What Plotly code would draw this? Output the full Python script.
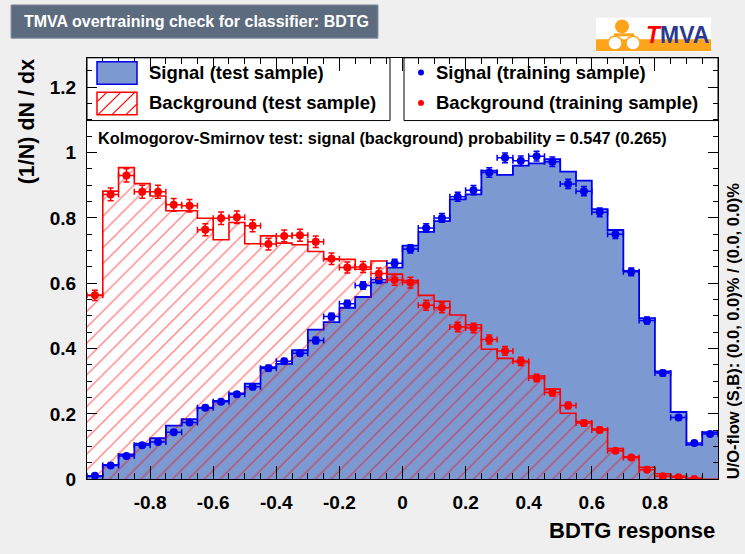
import numpy as np
import plotly.graph_objects as go

# ---- binning of the BDTG response (40 bins on [-1, 1]) ----
n_bins = 40
x_min, x_max = -1.0, 1.0

# ---- normalised distributions (1/N dN/dx) ----
sig_test = [0.009, 0.044, 0.076, 0.109, 0.126, 0.164, 0.184, 0.219, 0.240, 0.263,
            0.293, 0.343, 0.353, 0.395, 0.458, 0.481, 0.525, 0.558, 0.603, 0.648,
            0.715, 0.757, 0.790, 0.857, 0.872, 0.945, 0.932, 0.960, 0.967, 0.980,
            0.942, 0.914, 0.827, 0.763, 0.638, 0.493, 0.330, 0.206, 0.106, 0.144]

sig_train = [0.011, 0.042, 0.071, 0.104, 0.114, 0.144, 0.174, 0.219, 0.237, 0.260,
             0.283, 0.340, 0.361, 0.386, 0.425, 0.498, 0.537, 0.593, 0.611, 0.661,
             0.705, 0.769, 0.800, 0.865, 0.885, 0.939, 0.984, 0.975, 0.989, 0.972,
             0.904, 0.882, 0.817, 0.750, 0.635, 0.486, 0.325, 0.189, 0.111, 0.139]

bkg_test = [0.563, 0.882, 0.954, 0.905, 0.867, 0.822, 0.822, 0.799, 0.733, 0.786,
            0.721, 0.745, 0.723, 0.718, 0.697, 0.673, 0.673, 0.643, 0.668, 0.628,
            0.608, 0.563, 0.545, 0.503, 0.473, 0.398, 0.370, 0.360, 0.316, 0.276,
            0.202, 0.177, 0.154, 0.094, 0.069, 0.037, 0.017, 0.009, 0.003, 0.000]

bkg_train = [0.563, 0.872, 0.930, 0.880, 0.880, 0.840, 0.837, 0.764, 0.799, 0.802,
             0.776, 0.720, 0.745, 0.747, 0.727, 0.675, 0.648, 0.650, 0.630, 0.610,
             0.602, 0.533, 0.525, 0.466, 0.463, 0.428, 0.393, 0.361, 0.310, 0.266,
             0.226, 0.172, 0.151, 0.087, 0.067, 0.029, 0.009, 0.006, 0.001, None]

# statistical scale of the training samples (error ~ k*sqrt(y))
sig_err_scale = 0.0150
bkg_err_scale = 0.0210

x_tick_vals = [-0.8, -0.6, -0.4, -0.2, 0.0, 0.2, 0.4, 0.6, 0.8]
x_tick_text = ["-0.8", "-0.6", "-0.4", "-0.2", "0", "0.2", "0.4", "0.6", "0.8"]
y_tick_vals = [0.0, 0.2, 0.4, 0.6, 0.8, 1.0, 1.2]
y_tick_text = ["0", "0.2", "0.4", "0.6", "0.8", "1", "1.2"]

title_text = "TMVA overtraining check for classifier: BDTG"
ks_text = "Kolmogorov-Smirnov test: signal (background) probability = 0.547 (0.265)"
flow_text = "U/O-flow (S,B): (0.0, 0.0)% / (0.0, 0.0)%"

# ---- colours ----
SIG_FILL = "#7d99d1"
SIG_LINE = "#0000ee"
BKG_LINE = "#ff0000"
PAPER_BG = "#efefef"
FONT = "Liberation Sans, Arial, Helvetica, sans-serif"

W, H = 745, 554
FRAME_L, FRAME_R, FRAME_T, FRAME_B = 87, 718, 59, 489


def px(x):
    return x / W


def py(y):
    return 1 - y / H


edges = np.linspace(x_min, x_max, n_bins + 1)
centers = 0.5 * (edges[:-1] + edges[1:])
half_w = 0.5 * (edges[1] - edges[0])


def step_y(vals):
    return list(vals) + [vals[-1]]


def stat_err(vals, k):
    return [None if v is None else k * np.sqrt(v) for v in vals]


fig = go.Figure()

# signal (test sample): filled step histogram
fig.add_trace(go.Scatter(
    x=edges, y=step_y(sig_test), mode="lines", line_shape="hv",
    line=dict(color=SIG_LINE, width=1.8), fill="tozeroy", fillcolor=SIG_FILL,
    hoverinfo="skip"))

# background (test sample): hatched step histogram
fig.add_trace(go.Scatter(
    x=edges, y=step_y(bkg_test), mode="lines", line_shape="hv",
    line=dict(color=BKG_LINE, width=1.6), fill="tozeroy",
    fillcolor="rgba(0,0,0,0)",
    fillpattern=dict(shape="/", size=11.2, solidity=0.12, fgcolor=BKG_LINE,
                     bgcolor="rgba(0,0,0,0)", fillmode="overlay"),
    hoverinfo="skip"))

# training samples: markers with error bars
for vals, col, k in ((sig_train, SIG_LINE, sig_err_scale),
                     (bkg_train, BKG_LINE, bkg_err_scale)):
    fig.add_trace(go.Scatter(
        x=centers, y=vals, mode="markers",
        marker=dict(color=col, size=8, symbol="circle"),
        error_y=dict(type="data", array=stat_err(vals, k), width=3,
                     thickness=1.5, color=col),
        error_x=dict(type="constant", value=half_w, width=3,
                     thickness=1.5, color=col),
        hoverinfo="skip"))

axis_font = dict(family=FONT, size=19, color="black", weight="bold")

fig.update_layout(
    width=W, height=H, margin=dict(l=0, r=0, t=0, b=0),
    paper_bgcolor=PAPER_BG, plot_bgcolor="white", showlegend=False,
    xaxis=dict(domain=[px(FRAME_L), px(FRAME_R)], range=[x_min, x_max],
               tickmode="array", tickvals=x_tick_vals, ticktext=x_tick_text,
               ticks="inside", ticklen=13, tickwidth=1, tickcolor="black",
               minor=dict(tickmode="linear", tick0=0, dtick=0.05, ticks="inside",
                          ticklen=6, tickwidth=1, tickcolor="black"),
               showline=True, linecolor="black", linewidth=1, mirror="ticks",
               showgrid=False, zeroline=False, tickfont=axis_font,
               ticklabelstandoff=6),
    yaxis=dict(domain=[py(FRAME_B), py(FRAME_T)], range=[0, 1.29],
               tickmode="array", tickvals=y_tick_vals, ticktext=y_tick_text,
               ticks="inside", ticklen=10, tickwidth=1, tickcolor="black",
               minor=dict(tickmode="linear", tick0=0, dtick=0.05, ticks="inside",
                          ticklen=5, tickwidth=1, tickcolor="black"),
               showline=True, linecolor="black", linewidth=1, mirror="ticks",
               showgrid=False, zeroline=False, tickfont=axis_font,
               ticklabelstandoff=6),
)

shapes = []
annotations = []

# title banner
shapes.append(dict(type="rect", xref="paper", yref="paper",
                   x0=px(11), x1=px(378), y0=py(5), y1=py(39),
                   fillcolor="#5d6b7e", line=dict(color="#8995a6", width=1),
                   layer="above"))
annotations.append(dict(text=title_text, x=px(196), y=py(22), xref="paper", yref="paper",
                        showarrow=False, xanchor="center", yanchor="middle",
                        font=dict(family=FONT, size=16, color="white", weight="bold")))

# legend boxes
shapes.append(dict(type="rect", xref="paper", yref="paper",
                   x0=px(FRAME_L), x1=px(390), y0=py(123), y1=py(FRAME_T),
                   fillcolor="rgba(0,0,0,0)", line=dict(color="black", width=1),
                   layer="above"))
shapes.append(dict(type="rect", xref="paper", yref="paper",
                   x0=px(404), x1=px(FRAME_R), y0=py(123), y1=py(FRAME_T),
                   fillcolor="rgba(0,0,0,0)", line=dict(color="black", width=1),
                   layer="above"))

# legend sample: signal fill
shapes.append(dict(type="rect", xref="paper", yref="paper",
                   x0=px(97), x1=px(137), y0=py(86), y1=py(63),
                   fillcolor=SIG_FILL, line=dict(color=SIG_LINE, width=1.5),
                   layer="above"))
# legend sample: background hatch
bx0, bx1, by0, by1 = 97, 137, 94, 117
shapes.append(dict(type="rect", xref="paper", yref="paper",
                   x0=px(bx0), x1=px(bx1), y0=py(by1), y1=py(by0),
                   fillcolor="rgba(0,0,0,0)", line=dict(color=BKG_LINE, width=1.5),
                   layer="above"))
for kk in range(bx0 + by0 + 10, bx1 + by1, 14):
    xa = max(bx0, kk - by1)
    xb = min(bx1, kk - by0)
    if xb > xa:
        shapes.append(dict(type="line", xref="paper", yref="paper",
                           x0=px(xa), y0=py(kk - xa), x1=px(xb), y1=py(kk - xb),
                           line=dict(color=BKG_LINE, width=1.2), layer="above"))
# legend markers
for yc, col in ((74, SIG_LINE), (105, BKG_LINE)):
    shapes.append(dict(type="circle", xref="paper", yref="paper",
                       x0=px(418), x1=px(424), y0=py(yc + 3), y1=py(yc - 3),
                       fillcolor=col, line=dict(color=col, width=0), layer="above"))

legend_font = dict(family=FONT, size=18.5, color="black", weight="bold")
for txt, x, y in (("Signal (test sample)", 147, 74),
                  ("Background (test sample)", 147, 105),
                  ("Signal (training sample)", 434, 74),
                  ("Background (training sample)", 434, 105)):
    annotations.append(dict(text=txt, x=px(x), y=py(y), xref="paper", yref="paper",
                            showarrow=False, xanchor="left", yanchor="middle",
                            font=legend_font))

# KS test result
annotations.append(dict(text=ks_text, x=px(96), y=py(141), xref="paper", yref="paper",
                        showarrow=False, xanchor="left", yanchor="middle",
                        font=dict(family=FONT, size=16.3, color="black", weight="bold")))

# axis titles
annotations.append(dict(text="BDTG response", x=px(717), y=py(541), xref="paper",
                        yref="paper", showarrow=False, xanchor="right", yanchor="middle",
                        font=dict(family=FONT, size=22, color="black", weight="bold")))
annotations.append(dict(text="(1/N) dN / dx", x=px(27), y=py(59), xref="paper",
                        yref="paper", showarrow=False, xanchor="center", yanchor="top",
                        textangle=-90,
                        font=dict(family=FONT, size=21.5, color="black", weight="bold")))
# under/overflow info
annotations.append(dict(text=flow_text, x=px(733), y=py(491), xref="paper",
                        yref="paper", showarrow=False, xanchor="center", yanchor="bottom",
                        textangle=-90,
                        font=dict(family=FONT, size=16.5, color="black", weight="bold")))

# TMVA logo
shapes.append(dict(type="rect", xref="paper", yref="paper",
                   x0=px(596), x1=px(711), y0=py(53), y1=py(18),
                   fillcolor="white", line=dict(width=0), layer="above"))
shapes.append(dict(type="rect", xref="paper", yref="paper",
                   x0=px(596), x1=px(711), y0=py(52), y1=py(40),
                   fillcolor="#ffa31a", line=dict(width=0), layer="above"))
shapes.append(dict(type="circle", xref="paper", yref="paper",
                   x0=px(615), x1=px(629), y0=py(34), y1=py(20),
                   fillcolor="#ffa31a", line=dict(width=0), layer="above"))
shapes.append(dict(type="rect", xref="paper", yref="paper",
                   x0=px(614), x1=px(634), y0=py(37), y1=py(34),
                   fillcolor="#ffa31a", line=dict(width=0), layer="above"))
for cx in (615, 633):
    shapes.append(dict(type="circle", xref="paper", yref="paper",
                       x0=px(cx - 7), x1=px(cx + 7), y0=py(51), y1=py(37),
                       fillcolor="white", line=dict(color="#ffa31a", width=1.5),
                       layer="above"))
annotations.append(dict(
    text="<i><span style='color:#ff0000'>T</span></i><span style='color:#2b3990'>MVA</span>",
    x=px(677), y=py(36), xref="paper", yref="paper", showarrow=False,
    xanchor="center", yanchor="middle",
    font=dict(family=FONT, size=23, color="#2b3990", weight="bold")))

fig.update_layout(shapes=shapes, annotations=annotations)

fig.write_html("out.html")
